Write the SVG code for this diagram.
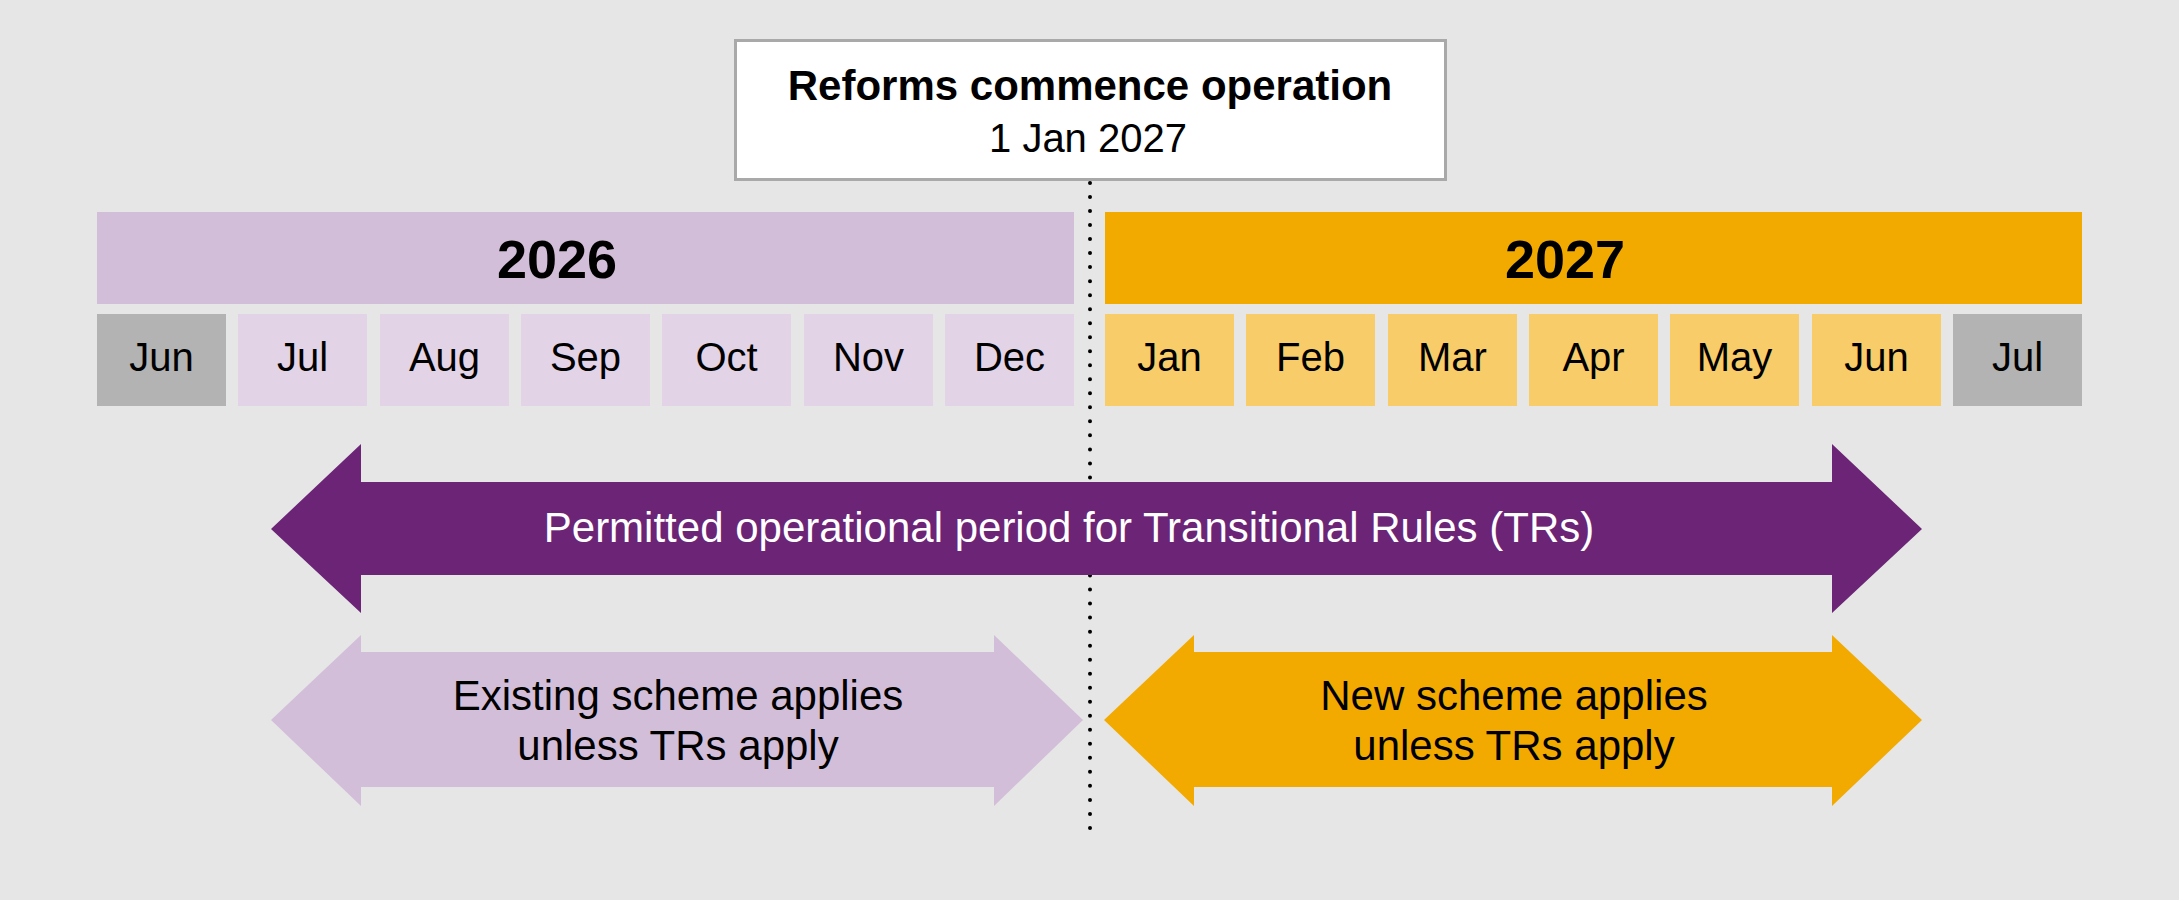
<svg xmlns="http://www.w3.org/2000/svg" width="2179" height="900" viewBox="0 0 2179 900">
<style>
text{font-family:"Liberation Sans",Arial,Helvetica,sans-serif;fill:#000}
.yr{font-size:54px;font-weight:bold;text-anchor:middle}
.mo{font-size:40px;text-anchor:middle}
.lbl{font-size:42px;text-anchor:middle}
.c26{fill:#e2d3e6}
.c27{fill:#f8cc69}
.cg{fill:#b3b3b3}
</style>
<rect x="0" y="0" width="2179" height="900" fill="#e6e6e6"/>
<g id="connectors">
<line x1="1090" y1="183" x2="1090" y2="829" stroke="#000" stroke-width="4" stroke-linecap="round" stroke-dasharray="0 14.02"/>
</g>
<g id="title">
<rect x="735.5" y="40.5" width="710" height="139" fill="#fff" stroke="#a9a9a9" stroke-width="3"/>
<text x="1090" y="100" style="font-size:42px;font-weight:bold;text-anchor:middle">Reforms commence operation</text>
<text x="1088" y="152" style="font-size:40px;text-anchor:middle">1 Jan 2027</text>
</g>
<g id="year2026">
<rect x="97" y="212" width="977" height="92" fill="#d3bed9"/>
<text class="yr" x="557" y="278">2026</text>
</g>
<g id="year2027">
<rect x="1105" y="212" width="977" height="92" fill="#f2aa00"/>
<text class="yr" x="1565" y="278">2027</text>
</g>
<g id="months2026">
<rect class="cg" x="97" y="314" width="129" height="92"/><text class="mo" x="161.5" y="371">Jun</text>
<rect class="c26" x="238" y="314" width="129" height="92"/><text class="mo" x="302.5" y="371">Jul</text>
<rect class="c26" x="380" y="314" width="129" height="92"/><text class="mo" x="444.5" y="371">Aug</text>
<rect class="c26" x="521" y="314" width="129" height="92"/><text class="mo" x="585.5" y="371">Sep</text>
<rect class="c26" x="662" y="314" width="129" height="92"/><text class="mo" x="726.5" y="371">Oct</text>
<rect class="c26" x="804" y="314" width="129" height="92"/><text class="mo" x="868.5" y="371">Nov</text>
<rect class="c26" x="945" y="314" width="129" height="92"/><text class="mo" x="1009.5" y="371">Dec</text>
</g>
<g id="months2027">
<rect class="c27" x="1105" y="314" width="129" height="92"/><text class="mo" x="1169.5" y="371">Jan</text>
<rect class="c27" x="1246" y="314" width="129" height="92"/><text class="mo" x="1310.5" y="371">Feb</text>
<rect class="c27" x="1388" y="314" width="129" height="92"/><text class="mo" x="1452.5" y="371">Mar</text>
<rect class="c27" x="1529" y="314" width="129" height="92"/><text class="mo" x="1593.5" y="371">Apr</text>
<rect class="c27" x="1670" y="314" width="129" height="92"/><text class="mo" x="1734.5" y="371">May</text>
<rect class="c27" x="1812" y="314" width="129" height="92"/><text class="mo" x="1876.5" y="371">Jun</text>
<rect class="cg" x="1953" y="314" width="129" height="92"/><text class="mo" x="2017.5" y="371">Jul</text>
</g>
<g id="tr-period">
<path d="M271,529 L361,444 L361,482 L1832,482 L1832,444 L1922,529 L1832,613 L1832,575 L361,575 L361,613 Z" fill="#6b2476"/>
<text class="lbl" x="1069" y="542" style="fill:#fff">Permitted operational period for Transitional Rules (TRs)</text>
</g>
<g id="existing-scheme">
<path d="M271,720 L361,635 L361,652 L994,652 L994,635 L1083,720 L994,806 L994,787 L361,787 L361,806 Z" fill="#d3bed9"/>
<text class="lbl" x="678" y="710">Existing scheme applies</text>
<text class="lbl" x="678" y="760">unless TRs apply</text>
</g>
<g id="new-scheme">
<path d="M1104,720 L1194,635 L1194,652 L1832,652 L1832,635 L1922,720 L1832,806 L1832,787 L1194,787 L1194,806 Z" fill="#f2aa00"/>
<text class="lbl" x="1514" y="710">New scheme applies</text>
<text class="lbl" x="1514" y="760">unless TRs apply</text>
</g>
</svg>
